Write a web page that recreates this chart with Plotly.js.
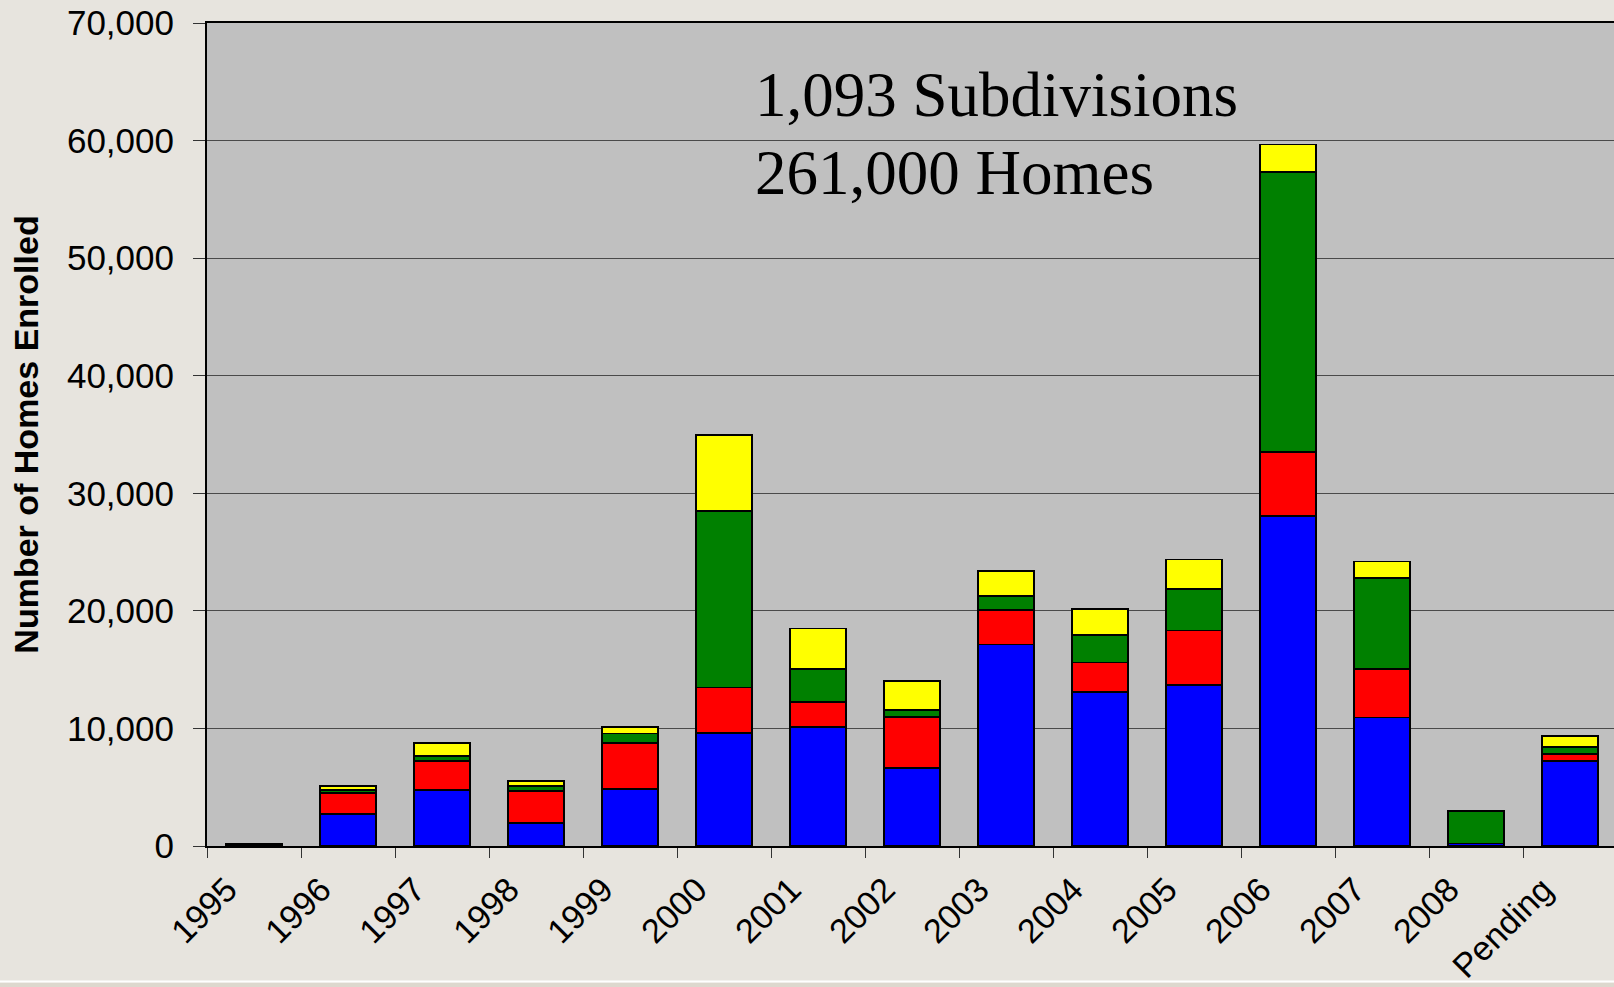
<!DOCTYPE html>
<html>
<head>
<meta charset="utf-8">
<script src="https://cdn.plot.ly/plotly-3.0.1.min.js"></script>
<style>
  html, body { margin: 0; padding: 0; overflow: hidden; background: #e7e4de; }
  #chart { width: 1620px; height: 987px; }
</style>
</head>
<body>
<div id="chart"></div>
<script>
// categories along the x axis
const years = ["1995", "1996", "1997", "1998", "1999", "2000", "2001", "2002",
    "2003", "2004", "2005", "2006", "2007", "2008", "Pending"];

// stacked segments, bottom to top (homes enrolled)
const blueVals   = [180, 2700, 4740, 1980, 4870, 9610, 10140, 6640, 17150, 13070, 13670, 28060, 10940, 220, 7230];
const redVals    = [0, 1800, 2510, 2720, 3910, 3880, 2130, 4350, 2920, 2550, 4670, 5470, 4090, 0, 590];
const greenVals  = [0, 250, 400, 400, 800, 15000, 2780, 550, 1210, 2320, 3490, 23780, 7790, 2760, 600];
const yellowVals = [0, 350, 1130, 430, 570, 6460, 3460, 2490, 2130, 2190, 2550, 2360, 1390, 0, 960];

const summaryLines = ["1,093 Subdivisions", "261,000 Homes"];

const segments = [
    { name: "Blue", values: blueVals, color: "#0000ff" },
    { name: "Red", values: redVals, color: "#ff0000" },
    { name: "Green", values: greenVals, color: "#008000" },
    { name: "Yellow", values: yellowVals, color: "#ffff00" },
];

const traces = segments.map((s) => ({
    type: "bar",
    name: s.name,
    x: years,
    y: s.values,
    marker: { color: s.color, line: { color: "#000000", width: 1.7 } },
    hoverinfo: "x+y",
}));

// one annotation per text line, so the line spacing follows the picture
const linePos = [0.912, 0.818];
const summaryNotes = summaryLines.map((t, i) => ({
    xref: "paper",
    yref: "paper",
    x: 0.3875,
    y: linePos[i],
    xanchor: "left",
    yanchor: "middle",
    showarrow: false,
    text: t,
    font: { family: "Liberation Serif, Times New Roman, serif", size: 63, color: "#000000" },
}));

const layout = {
    width: 1620,
    height: 987,
    barmode: "stack",
    bargap: 0.41,
    showlegend: false,
    paper_bgcolor: "#e7e4de",
    plot_bgcolor: "#c0c0c0",
    margin: { t: 23, b: 141, l: 207, r: 3 },
    font: { family: "Liberation Sans, Arial, sans-serif", color: "#000000" },
    xaxis: {
        type: "category",
        tickangle: -45,
        tickfont: { size: 34 },
        ticks: "outside",
        tickson: "boundaries",
        ticklen: 10,
        tickcolor: "#333333",
        ticklabelshift: -27,
        ticklabelstandoff: 8,
        showline: true,
        linecolor: "#000000",
        linewidth: 2,
        mirror: true,
        showgrid: false,
    },
    yaxis: {
        range: [0, 70000],
        dtick: 10000,
        tickformat: ",d",
        tickfont: { size: 35 },
        ticks: "outside",
        ticklen: 12,
        tickcolor: "#333333",
        ticklabelstandoff: 12,
        showline: true,
        linecolor: "#000000",
        linewidth: 2,
        gridcolor: "#4a4a4a",
        gridwidth: 1,
        zeroline: false,
        title: {
            text: "Number of Homes Enrolled",
            font: { size: 34, family: "Liberation Sans, Arial, sans-serif", weight: "bold" },
            standoff: 18,
        },
    },
    annotations: summaryNotes,
    // slide footer: thin white rule with a darker strip below
    shapes: [
        {
            type: "rect", xref: "paper", yref: "paper", layer: "below",
            x0: -0.2, x1: 1.1, y0: -0.166, y1: -0.2,
            fillcolor: "#ddd8ce", line: { width: 0 },
        },
        {
            type: "line", xref: "paper", yref: "paper", layer: "below",
            x0: -0.2, x1: 1.1, y0: -0.1645, y1: -0.1645,
            line: { color: "#ffffff", width: 2 },
        },
    ],
};

Plotly.newPlot("chart", traces, layout, { displayModeBar: false, staticPlot: true });
</script>
</body>
</html>
